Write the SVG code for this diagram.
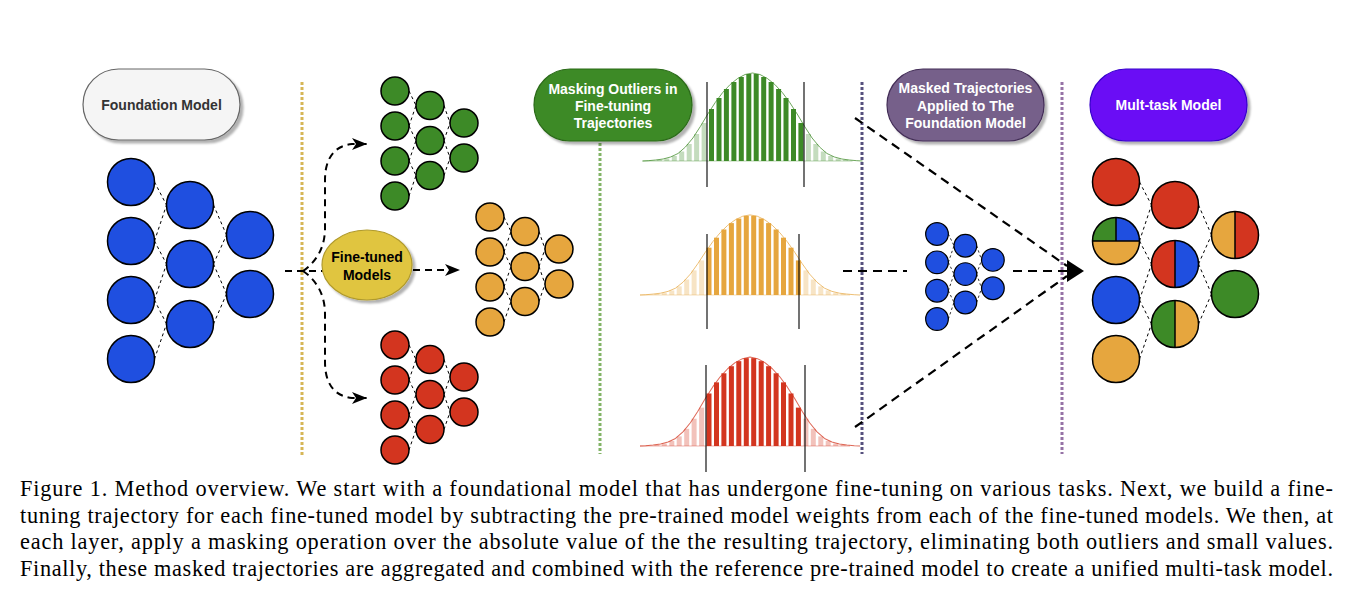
<svg xmlns="http://www.w3.org/2000/svg" xmlns:xlink="http://www.w3.org/1999/xlink" width="1354" height="602" viewBox="0 0 1354 602">
<defs>
<style>
.lbl{font-family:"Liberation Sans",Arial,sans-serif;font-weight:bold;font-size:14px;text-anchor:middle}
.nb{stroke:#000;stroke-width:1.5}
.ne{stroke:#000;stroke-width:1;stroke-dasharray:3 3;fill:none}
.blue{fill:#1f4fe0}.green{fill:#3d8a27}.orange{fill:#e6a63e}.red{fill:#d3351f}
.vsep{fill:none;stroke-width:3;stroke-dasharray:3 2}
.flow{fill:none;stroke:#000;stroke-width:2;stroke-dasharray:7 5}
.flow2{fill:none;stroke:#000;stroke-width:2.2;stroke-dasharray:9 6}
.cut{stroke:#000;stroke-width:1.3;stroke-opacity:0.85}
.cap{font-family:"Liberation Serif","Times New Roman",serif;font-size:22.3px;fill:#000}
</style>
<filter id="sh" x="-10%" y="-10%" width="130%" height="140%"><feDropShadow dx="3" dy="3" stdDeviation="1.2" flood-color="#000" flood-opacity="0.3"/></filter>
<marker id="ah" markerUnits="userSpaceOnUse" markerWidth="16" markerHeight="12" refX="15" refY="6" orient="auto"><path d="M0,0 L15,6 L0,12 L4,6 Z" fill="#000"/></marker>
<g id="snet">
<path class="ne" d="M14,0L21,14.5M14,35L21,14.5M14,35L21,49.5M14,70L21,49.5M14,70L21,84.5M14,105L21,84.5M49,14.5L55,32M49,49.5L55,32M49,49.5L55,67M49,84.5L55,67"/>
<g fill="currentColor" class="nb">
<circle cx="0" cy="0" r="14"/><circle cx="0" cy="35" r="14"/><circle cx="0" cy="70" r="14"/><circle cx="0" cy="105" r="14"/>
<circle cx="35" cy="14.5" r="14"/><circle cx="35" cy="49.5" r="14"/><circle cx="35" cy="84.5" r="14"/>
<circle cx="69" cy="32" r="14"/><circle cx="69" cy="67" r="14"/>
</g>
</g>
<g id="hist">
<line x1="-110" y1="0" x2="100" y2="0" stroke="currentColor" stroke-opacity="0.25" stroke-width="1.5"/>
<g fill="currentColor" fill-opacity="0.3">
<rect x="-50.9" y="-38" width="5" height="38"/><rect x="-58.4" y="-27" width="5" height="27"/><rect x="-65.8" y="-17" width="5" height="17"/><rect x="-73.3" y="-9.5" width="5" height="9.5"/><rect x="-80.7" y="-5" width="5" height="5"/><rect x="-88.2" y="-2.5" width="5" height="2.5"/><rect x="-95.6" y="-1.2" width="5" height="1.2"/>
<rect x="53.4" y="-27" width="5" height="27"/><rect x="60.8" y="-17" width="5" height="17"/><rect x="68.3" y="-9.5" width="5" height="9.5"/><rect x="75.7" y="-5" width="5" height="5"/><rect x="83.2" y="-2.5" width="5" height="2.5"/><rect x="90.6" y="-1.2" width="5" height="1.2"/>
</g>
<g fill="currentColor">
<rect x="-6.2" y="-87" width="5" height="87"/><rect x="-13.7" y="-84" width="5" height="84"/><rect x="-21.1" y="-79" width="5" height="79"/><rect x="-28.6" y="-72" width="5" height="72"/><rect x="-36" y="-63" width="5" height="63"/><rect x="-43.5" y="-52" width="5" height="52"/>
<rect x="1.2" y="-87" width="5" height="87"/><rect x="8.7" y="-84" width="5" height="84"/><rect x="16.1" y="-79" width="5" height="79"/><rect x="23.6" y="-72" width="5" height="72"/><rect x="31" y="-63" width="5" height="63"/><rect x="38.5" y="-52" width="5" height="52"/><rect x="45.9" y="-38" width="5" height="38"/>
</g>
<polyline fill="none" stroke="currentColor" stroke-opacity="0.75" stroke-width="1" stroke-linejoin="round" points="-110,0 -104.3,-0.3 -96.85,-1 -89.4,-2 -81.95,-4 -74.5,-7.5 -67.05,-14 -59.6,-23 -52.15,-34.5 -44.7,-47 -37.25,-58.5 -29.8,-68.5 -22.35,-76.5 -14.9,-82.5 -7.45,-86.5 0,-88 7.45,-86.5 14.9,-82.5 22.35,-76.5 29.8,-68.5 37.25,-58.5 44.7,-47 52.15,-34.5 59.6,-23 67.05,-14 74.5,-7.5 81.95,-4 89.4,-2 96.85,-1 104.3,-0.3 110,0"/>
</g>
</defs>
<rect width="1354" height="602" fill="#fff"/>

<g id="separators">
<line class="vsep" x1="302" y1="82" x2="302" y2="456" stroke="#d6b656"/>
<line class="vsep" x1="600" y1="143" x2="600" y2="454" stroke="#82b366"/>
<line class="vsep" x1="862" y1="82" x2="862" y2="454" stroke="#56517e"/>
<line class="vsep" x1="1062" y1="82" x2="1062" y2="454" stroke="#9673a6"/>
</g>

<g id="connectors">
<path class="flow" d="M285,271 L323,271"/>
<path class="flow" d="M303,271 C316,262 325,248 325,228 L325,180 C325,160 333,146 352,144 L367,144" marker-end="url(#ah)"/>
<path class="flow" d="M303,271 C316,280 325,294 325,314 L325,362 C325,382 333,396 352,398 L367,398" marker-end="url(#ah)"/>
<path class="flow" d="M413,270 L460,270" marker-end="url(#ah)"/>
<path class="flow2" d="M855,118 L1067,266"/>
<path class="flow2" d="M855,427 L1067,276"/>
<path class="flow2" d="M843,271 L907,271"/>
<path class="flow2" d="M1013,271 L1068,271"/>
<path d="M1067,260 L1084,271 L1067,282 Z" fill="#000"/>
</g>

<g id="foundation-model-label">
<rect x="83" y="69" width="157" height="71" rx="35.5" fill="#f5f5f5" stroke="#666" stroke-width="1.2" filter="url(#sh)"/>
<text class="lbl" x="161.5" y="110" fill="#333">Foundation Model</text>
</g>

<g id="foundation-model">
<path class="ne" d="M154.5,182L166.5,205M154.5,241L166.5,205M154.5,241L166.5,264M154.5,300L166.5,264M154.5,300L166.5,324M154.5,359L166.5,324M213.5,205L226.5,235M213.5,264L226.5,235M213.5,264L226.5,294M213.5,324L226.5,294"/>
<g class="nb blue">
<circle cx="131" cy="182" r="23.5"/><circle cx="131" cy="241" r="23.5"/><circle cx="131" cy="300" r="23.5"/><circle cx="131" cy="359" r="23.5"/>
<circle cx="190" cy="205" r="23.5"/><circle cx="190" cy="264" r="23.5"/><circle cx="190" cy="324" r="23.5"/>
<circle cx="250" cy="235" r="23.5"/><circle cx="250" cy="294" r="23.5"/>
</g>
</g>

<g id="fine-tuned-models">
<ellipse cx="367" cy="265" rx="45" ry="35" fill="#e0c540" stroke="#b09a2c" stroke-width="1.2" filter="url(#sh)"/>
<text class="lbl" x="367" y="262" fill="#000">Fine-tuned</text>
<text class="lbl" x="367" y="280" fill="#000">Models</text>
</g>

<g id="green-model"><use xlink:href="#snet" href="#snet" transform="translate(395,91)" color="#3d8a27"/></g>
<g id="orange-model"><use xlink:href="#snet" href="#snet" transform="translate(490,217)" color="#e6a63e"/></g>
<g id="red-model"><use xlink:href="#snet" href="#snet" transform="translate(395,345)" color="#d3351f"/></g>

<g id="masking-label">
<rect x="534" y="69" width="158" height="72" rx="36" fill="#3d8a27" stroke="#2a6a18" stroke-width="1.2" filter="url(#sh)"/>
<text class="lbl" x="613" y="94" fill="#fff">Masking Outliers in</text>
<text class="lbl" x="613" y="111" fill="#fff">Fine-tuning</text>
<text class="lbl" x="613" y="128" fill="#fff">Trajectories</text>
</g>

<g id="green-histogram">
<use xlink:href="#hist" href="#hist" transform="translate(752.5,161)" color="#3d8a27"/>
<line class="cut" x1="707" y1="82" x2="707" y2="187"/><line class="cut" x1="804" y1="82" x2="804" y2="187"/>
</g>
<g id="orange-histogram">
<use xlink:href="#hist" href="#hist" transform="translate(750,295) scale(1,0.91)" color="#e6a63e"/>
<line class="cut" x1="707" y1="234" x2="707" y2="329"/><line class="cut" x1="799" y1="234" x2="799" y2="329"/>
</g>
<g id="red-histogram">
<use xlink:href="#hist" href="#hist" transform="translate(750,446) scale(1,1.01)" color="#d3351f"/>
<line class="cut" x1="706" y1="365" x2="706" y2="472"/><line class="cut" x1="805" y1="365" x2="805" y2="472"/>
</g>

<g id="masked-label">
<rect x="887" y="69" width="157" height="72" rx="36" fill="#76608a" stroke="#432d57" stroke-width="1.2" filter="url(#sh)"/>
<text class="lbl" x="965.5" y="93" fill="#fff">Masked Trajectories</text>
<text class="lbl" x="965.5" y="111" fill="#fff">Applied to The</text>
<text class="lbl" x="965.5" y="128" fill="#fff">Foundation Model</text>
</g>

<g id="masked-model"><use xlink:href="#snet" href="#snet" transform="translate(937,234) scale(0.81)" color="#1f4fe0"/></g>

<g id="multitask-label">
<rect x="1090" y="69" width="157" height="72" rx="36" fill="#6a0ff5" stroke="#3700cc" stroke-width="1.2" filter="url(#sh)"/>
<text class="lbl" x="1168.5" y="110" fill="#fff">Mult-task Model</text>
</g>

<g id="multitask-model">
<path class="ne" transform="translate(985,0)" d="M154.5,182L166.5,205M154.5,241L166.5,205M154.5,241L166.5,264M154.5,300L166.5,264M154.5,300L166.5,324M154.5,359L166.5,324M213.5,205L226.5,235M213.5,264L226.5,235M213.5,264L226.5,294M213.5,324L226.5,294"/>
<circle class="nb red" cx="1116" cy="182" r="23.5"/>
<g>
<path class="green" d="M1116,241 L1092.5,241 A23.5,23.5 0 0 1 1116,217.5 Z"/>
<path class="blue" d="M1116,241 L1116,217.5 A23.5,23.5 0 0 1 1139.5,241 Z"/>
<path class="orange" d="M1092.5,241 A23.5,23.5 0 0 0 1139.5,241 Z"/>
<path d="M1092.5,241 H1139.5 M1116,241 V217.5" stroke="#000" stroke-width="1.5"/>
<circle cx="1116" cy="241" r="23.5" fill="none" class="nb"/>
</g>
<circle class="nb blue" cx="1116" cy="300" r="23.5"/>
<circle class="nb orange" cx="1116" cy="359" r="23.5"/>
<circle class="nb red" cx="1175" cy="205" r="23.5"/>
<g>
<path class="red" d="M1175,240.5 A23.5,23.5 0 0 0 1175,287.5 Z"/>
<path class="blue" d="M1175,240.5 A23.5,23.5 0 0 1 1175,287.5 Z"/>
<path d="M1175,240.5 V287.5" stroke="#000" stroke-width="1.5"/>
<circle cx="1175" cy="264" r="23.5" fill="none" class="nb"/>
</g>
<g>
<path class="green" d="M1175,300.5 A23.5,23.5 0 0 0 1175,347.5 Z"/>
<path class="orange" d="M1175,300.5 A23.5,23.5 0 0 1 1175,347.5 Z"/>
<path d="M1175,300.5 V347.5" stroke="#000" stroke-width="1.5"/>
<circle cx="1175" cy="324" r="23.5" fill="none" class="nb"/>
</g>
<g>
<path class="orange" d="M1235,211.5 A23.5,23.5 0 0 0 1235,258.5 Z"/>
<path class="red" d="M1235,211.5 A23.5,23.5 0 0 1 1235,258.5 Z"/>
<path d="M1235,211.5 V258.5" stroke="#000" stroke-width="1.5"/>
<circle cx="1235" cy="235" r="23.5" fill="none" class="nb"/>
</g>
<circle class="nb green" cx="1235" cy="294" r="23.5"/>
</g>

<g id="caption">
<text class="cap" x="20" y="496" textLength="1313" lengthAdjust="spacing">Figure 1.  Method overview.  We start with a foundational model that has undergone fine-tuning on various tasks.  Next, we build a fine-</text>
<text class="cap" x="20" y="523" textLength="1313" lengthAdjust="spacing">tuning trajectory for each fine-tuned model by subtracting the pre-trained model weights from each of the fine-tuned models.  We then, at</text>
<text class="cap" x="20" y="549" textLength="1313" lengthAdjust="spacing">each layer, apply a masking operation over the absolute value of the the resulting trajectory, eliminating both outliers and small values.</text>
<text class="cap" x="20" y="576" textLength="1313" lengthAdjust="spacing">Finally, these masked trajectories are aggregated and combined with the reference pre-trained model to create a unified multi-task model.</text>
</g>
</svg>
